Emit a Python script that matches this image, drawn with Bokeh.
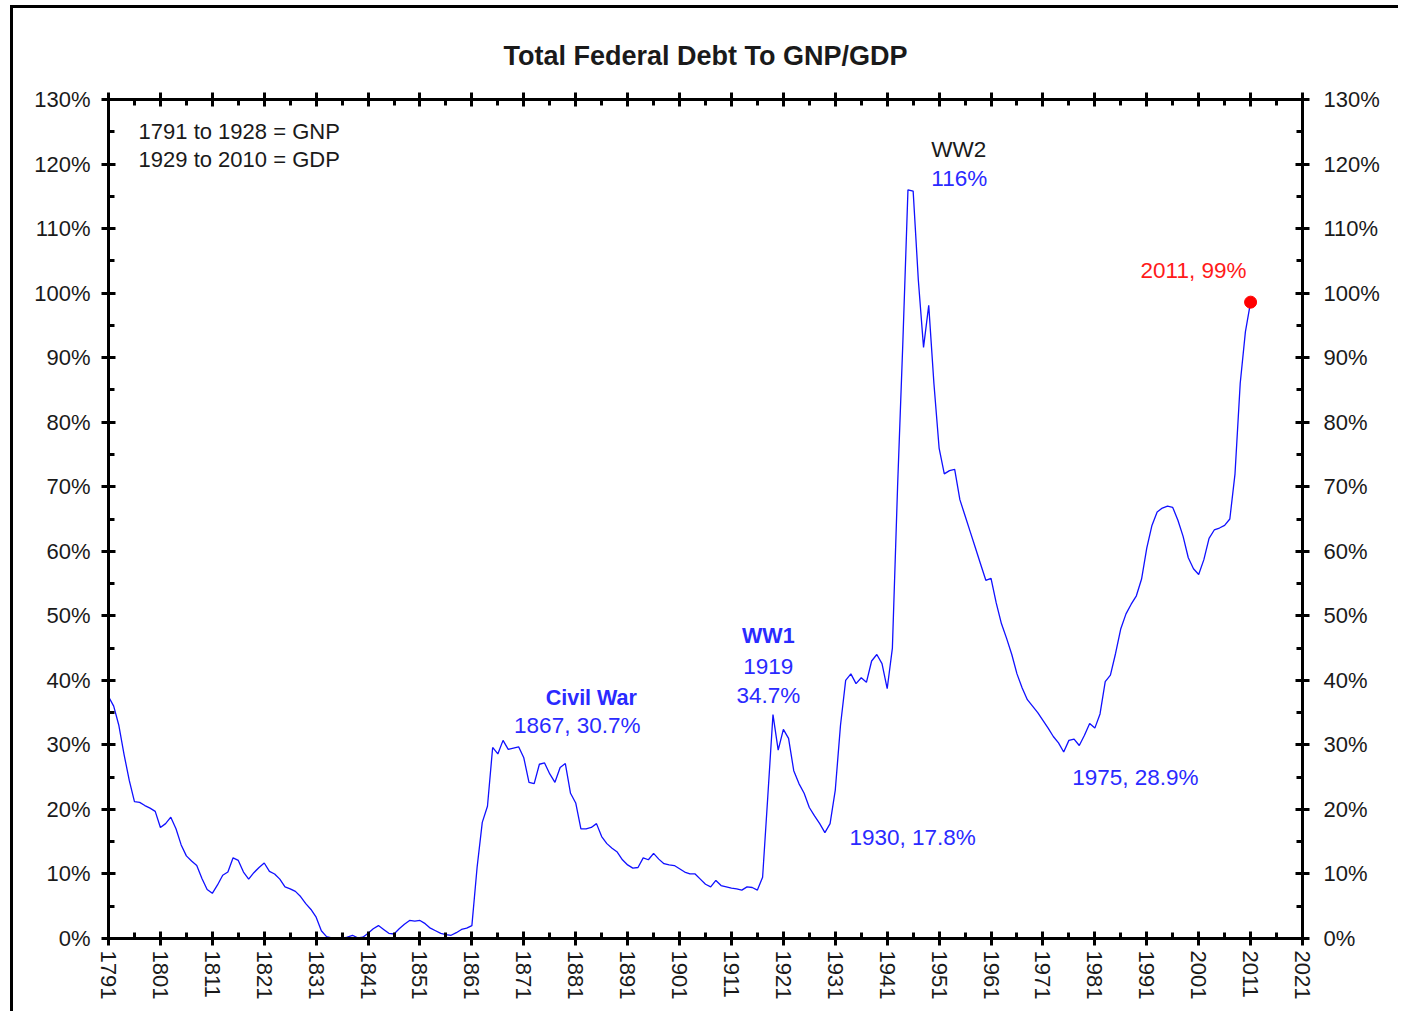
import math
from bokeh.plotting import figure
from bokeh.models import (Range1d, LinearAxis, FixedTicker, CustomJSTickFormatter,
                          ColumnDataSource, Label)
from bokeh.core.properties import value
from bokeh.embed import file_html
from bokeh.resources import INLINE

# ---------------- data ----------------
years = list(range(1791, 2012))
debt_pct = [
    37.5, 36.0, 33.0, 28.5, 24.5, 21.2, 21.1, 20.6, 20.2, 19.7,   # 1791-1800
    17.2, 17.8, 18.8, 17.0, 14.5, 12.8, 12.0, 11.3, 9.3, 7.6,     # 1801-1810
    7.0, 8.3, 9.8, 10.3, 12.5, 12.1, 10.3, 9.2, 10.2, 11.0,       # 1811-1820
    11.7, 10.4, 10.0, 9.2, 8.0, 7.7, 7.3, 6.5, 5.4, 4.5,          # 1821-1830
    3.3, 1.2, 0.3, 0.1, 0.0, 0.0, 0.2, 0.5, 0.1, 0.2,             # 1831-1840
    0.8, 1.5, 2.0, 1.4, 0.8, 0.7, 1.5, 2.2, 2.8, 2.7,             # 1841-1850
    2.8, 2.3, 1.6, 1.2, 0.8, 0.6, 0.5, 0.9, 1.4, 1.6,             # 1851-1860
    2.0, 11.0, 18.0, 20.5, 29.6, 28.6, 30.7, 29.3, 29.5, 29.7,    # 1861-1870
    28.0, 24.2, 24.0, 27.0, 27.2, 25.5, 24.2, 26.5, 27.1, 22.5,   # 1871-1880
    21.0, 17.0, 17.0, 17.2, 17.8, 15.8, 14.7, 14.0, 13.4, 12.2,   # 1881-1890
    11.4, 10.9, 11.0, 12.5, 12.2, 13.2, 12.3, 11.6, 11.4, 11.3,   # 1891-1900
    10.8, 10.3, 10.0, 10.0, 9.2, 8.4, 8.0, 9.0, 8.2, 8.0,         # 1901-1910
    7.8, 7.7, 7.5, 8.0, 7.9, 7.5, 9.5, 22.0, 34.7, 29.2,          # 1911-1920
    32.4, 31.0, 26.0, 24.0, 22.5, 20.3, 19.0, 17.8, 16.4, 17.8,   # 1921-1930
    23.0, 33.0, 40.0, 41.0, 39.5, 40.4, 39.7, 43.0, 44.0, 42.6,   # 1931-1940
    38.7, 45.0, 70.0, 92.0, 116.0, 115.8, 102.0, 91.6, 98.1, 86.0,  # 1941-1950
    76.0, 72.0, 72.5, 72.7, 68.0, 65.5, 63.0, 60.5, 58.0, 55.5,   # 1951-1960
    55.8, 52.0, 48.8, 46.5, 44.0, 41.0, 38.8, 37.0, 36.0, 35.0,   # 1961-1970
    33.8, 32.6, 31.3, 30.3, 28.9, 30.7, 30.9, 29.9, 31.5, 33.3,   # 1971-1980
    32.6, 34.8, 39.8, 40.8, 44.2, 48.0, 50.3, 51.8, 53.1, 55.7,   # 1981-1990
    60.5, 64.0, 66.1, 66.7, 67.0, 66.8, 64.8, 62.3, 59.0, 57.3,   # 1991-2000
    56.4, 58.7, 62.0, 63.3, 63.6, 64.0, 65.0, 72.0, 86.0, 94.0,   # 2001-2010
    98.6,                                                          # 2011
]
last_year = [2011]
last_value = [98.6]

x_major = list(range(1791, 2022, 10))
x_minor = list(range(1796, 2022, 10))
y_major = list(range(0, 131, 10))
y_minor = list(range(5, 131, 10))

title_text = "Total Federal Debt To GNP/GDP"
note_lines = ["1791 to 1928 = GNP", "1929 to 2010 = GDP"]

FONT = "Liberation Sans"
BLUE_TXT = "#2a2aff"
INK = "#1a1a1a"

p = figure(width=1388, height=1006, output_backend="svg", toolbar_location=None,
           x_range=Range1d(1791, 2021), y_range=Range1d(0, 130),
           x_axis_location=None, y_axis_location=None,
           min_border_left=95, min_border_right=99, min_border_top=91,
           min_border_bottom=76)
p.styles = {"border-top": "3px solid black", "border-left": "3px solid black",
            "margin-left": "10px", "margin-top": "5px"}
p.outline_line_color = None
p.xgrid.visible = False
p.ygrid.visible = False
p.background_fill_color = "white"
p.border_fill_color = "white"

p.title.text = title_text
p.title.align = "center"
p.title.text_font = FONT
p.title.text_font_size = "27px"
p.title.text_font_style = "bold"
p.title.text_color = INK
p.title.standoff = 44
p.title.offset = 8


def style_axis(ax):
    ax.axis_line_width = 3
    ax.axis_line_color = "black"
    ax.major_tick_line_width = 3
    ax.major_tick_line_color = "black"
    ax.minor_tick_line_width = 3
    ax.minor_tick_line_color = "black"
    ax.major_tick_in = 7
    ax.major_tick_out = 7
    ax.minor_tick_in = 6
    ax.minor_tick_out = 0
    ax.major_label_text_font = FONT
    ax.major_label_text_font_size = "22px"
    ax.major_label_text_color = INK


xt = FixedTicker(ticks=x_major, minor_ticks=x_minor)
yt = FixedTicker(ticks=y_major, minor_ticks=y_minor)
pct_fmt = CustomJSTickFormatter(code="return tick.toFixed(0) + '%';")
blank_fmt = CustomJSTickFormatter(code="return '';")

bottom = LinearAxis(ticker=xt)
style_axis(bottom)
bottom.major_label_orientation = "vertical"
bottom.major_label_standoff = 5
p.add_layout(bottom, "below")

top = LinearAxis(ticker=xt, formatter=blank_fmt)
style_axis(top)
top.major_label_standoff = 0
p.add_layout(top, "above")

left = LinearAxis(ticker=yt, formatter=pct_fmt)
style_axis(left)
left.major_label_standoff = 11
p.add_layout(left, "left")

right = LinearAxis(ticker=yt, formatter=pct_fmt)
style_axis(right)
right.major_label_standoff = 14
p.add_layout(right, "right")

src = ColumnDataSource(dict(year=years, debt=debt_pct))
p.line("year", "debt", source=src, line_color="#1010ff", line_width=1.3)
p.scatter(last_year, last_value, size=12, color="#ff0000")

def lab(x, y, text, color, bold=False, align="center", size="22.5px"):
    p.add_layout(Label(x=x, y=y, text=text, text_color=color,
                       text_font=FONT, text_font_size=size,
                       text_font_style="bold" if bold else "normal",
                       text_align=align, text_baseline="middle"))

lab(1796.8, 125.0, note_lines[0], INK, align="left", size="22px")
lab(1796.8, 120.7, note_lines[1], INK, align="left", size="22px")
lab(1949.5, 122.2, "WW2", INK, align="left")
lab(1949.5, 117.8, "116%", BLUE_TXT, align="left")
lab(2000.0, 103.5, "2011, 99%", "#ff1a1a")
lab(1918.1, 46.9, "WW1", BLUE_TXT, bold=True, size="21.5px")
lab(1918.1, 42.1, "1919", BLUE_TXT)
lab(1918.1, 37.7, "34.7%", BLUE_TXT)
lab(1884.0, 37.3, "Civil War", BLUE_TXT, bold=True, size="21.5px")
lab(1881.3, 33.0, "1867, 30.7%", BLUE_TXT)
lab(1945.9, 15.6, "1930, 17.8%", BLUE_TXT)
lab(1988.8, 24.9, "1975, 28.9%", BLUE_TXT)

open("out.html", "w").write(file_html(p, INLINE))
